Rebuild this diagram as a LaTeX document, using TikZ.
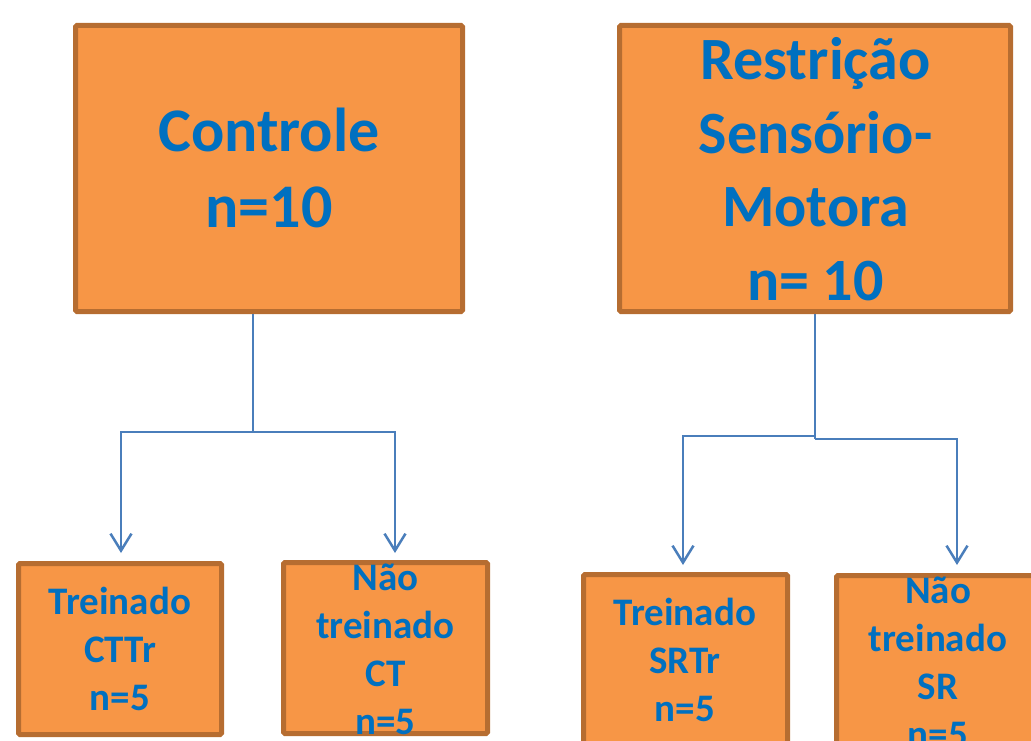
\documentclass[tikz,border=0pt]{standalone}
\usepackage{fontspec}
\setmainfont{Carlito}
\usetikzlibrary{arrows.meta}
\definecolor{boxfill}{HTML}{F79646}
\definecolor{boxline}{HTML}{B66D31}
\definecolor{txtblue}{HTML}{0070C0}
\definecolor{linkblue}{HTML}{4A7EBB}
% stacked, centred lines; the baseline is that of the first line
\newcommand{\stack}[3]{{\fontsize{#1}{#2}\selectfont\begin{tabular}[t]{@{}c@{}}#3\end{tabular}}}

\begin{document}
\begin{tikzpicture}[x=1pt,y=-1pt,
  grp/.style={rectangle, draw=boxline, fill=boxfill, line width=5pt,
              rounded corners=1.5pt, inner sep=0pt},
  lbl/.style={anchor=base, inner sep=0pt, text=txtblue, font=\bfseries},
  link/.style={draw=linkblue, line width=2.5pt},
  arr/.style={link, -{Straight Barb[length=17pt,width=21pt]}}]
\useasboundingbox (0,0) rectangle (1031,741);

% group boxes
\node[grp, minimum width=387pt, minimum height=286pt] (ctrl) at (269,168.5) {};
\node[grp, minimum width=391pt, minimum height=286pt] (rest) at (815,168.5) {};

% subgroup boxes
\node[grp, minimum width=203pt, minimum height=171pt] (cttr) at (120,649) {};
\node[grp, minimum width=204pt, minimum height=171pt] (ct)   at (385.5,648) {};
\node[grp, minimum width=204pt, minimum height=171pt] (srtr) at (685.5,660) {};
\node[grp, minimum width=207pt, minimum height=171pt] (sr)   at (940,661) {};

% labels
\node[lbl] (tctrl) at (269,152) {\stack{62}{76}{Controle\\n=10}};
\node[lbl] (trest) at (815.5,80) {\stack{60}{73.5}{Restrição\\Sensório-\\Motora\\n= 10}};
\node[lbl] (tcttr) at (120,614) {\stack{39}{48}{Treinado\\CTTr\\n=5}};
\node[lbl] (tct)   at (385.5,590) {\stack{39}{48}{Não\\treinado\\CT\\n=5}};
\node[lbl] (tsrtr) at (685,625) {\stack{39}{48}{Treinado\\SRTr\\n=5}};
\node[lbl] (tsr)   at (938,603) {\stack{39}{48}{Não\\treinado\\SR\\n=5}};

% branching connectors, Controle
\coordinate (j1) at (253,432);
\coordinate (e1) at (121,553);
\coordinate (e2) at (395,553);
\draw[link] (ctrl.south -| j1) -- (j1);
\draw[arr] (j1) -| (e1);
\draw[arr] (j1) -| (e2);

% branching connectors, Restrição Sensório-Motora
\coordinate (j2) at (815,436);
\coordinate (j3) at (815,439);
\coordinate (e3) at (683,565);
\coordinate (e4) at (957,565);
\draw[link] (rest.south -| j3) -- (j3);
\draw[arr] (j2) -| (e3);
\draw[arr] (j3) -| (e4);
\end{tikzpicture}
\end{document}
